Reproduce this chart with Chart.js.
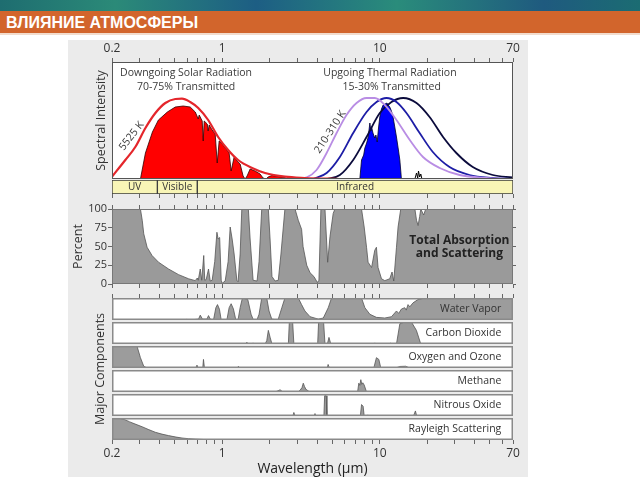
<!DOCTYPE html>
<html lang="ru">
<head>
<meta charset="utf-8">
<title>Влияние атмосферы</title>
<script src="https://cdn.jsdelivr.net/npm/chart.js@4.4.1/dist/chart.umd.min.js"></script>
<style>
  body { margin: 0; width: 640px; height: 480px; background: #fff; position: relative; overflow: hidden; font-family: "Open Sans", sans-serif; }
  .strip { position: absolute; left: 0; top: 0; width: 640px; height: 11px;
    background: linear-gradient(90deg, #1e6d70 0%, #2b8a78 18%, #1d5e84 40%, #2a8c7b 62%, #1f5a7f 85%, #1b6c72 100%); }
  .header { position: absolute; left: 0; top: 11px; width: 640px; height: 24px; background: #d2652c;
    border-bottom: 2px solid #f2dccd; color: #fff; font: bold 16px "Liberation Sans", Arial, sans-serif;
    line-height: 24px; padding-left: 6px; box-sizing: border-box; }
  .panel { position: absolute; left: 68px; top: 40px; width: 460px; height: 437px; background: #ebebeb; }
  canvas { position: absolute; }
  .ytitle { position: absolute; left: 20px; top: 361px; width: 160px; height: 16px; line-height: 16px;
    text-align: center; font-size: 12.5px; color: #333; transform: rotate(-90deg); }
</style>
</head>
<body>
<div class="strip"></div>
<div class="header">ВЛИЯНИЕ АТМОСФЕРЫ</div>
<div class="panel"></div>
<canvas id="spec" width="460" height="140" style="left:68px;top:40px"></canvas>
<canvas id="band" width="460" height="20" style="left:68px;top:180px"></canvas>
<canvas id="pct" width="460" height="92" style="left:68px;top:200px"></canvas>
<div id="rows"></div>
<div class="ytitle">Major Components</div>
<script>
// wavelength axis (µm)
const ticksAt = [0.2, 0.3, 0.4, 0.5, 0.6, 0.7, 0.8, 0.9, 1, 2, 3, 4, 5, 6, 7, 8, 9, 10, 20, 30, 40, 50, 60, 70];
const tickLabels = [0.2, 1, 10, 70];
const pctTicks = [0, 25, 50, 75, 100];

// spectral intensity panel
const solarBBWl = [0.2, 0.243, 0.281, 0.326, 0.377, 0.436, 0.504, 0.556, 0.627, 0.705, 0.815, 0.943, 1.091, 1.262, 1.548, 1.871, 2.5, 3.35, 5.58];
const solarBBVal = [2.3, 19, 32, 51, 66, 76, 80, 80.3, 77, 71, 59, 42, 29, 19, 11, 6, 2.3, 1, 0];
const solarWl = [0.303, 0.326, 0.361, 0.394, 0.449, 0.504, 0.566, 0.627, 0.675, 0.705, 0.715, 0.747, 0.758, 0.769, 0.804, 0.815, 0.827, 0.864, 0.903, 0.930, 0.957, 1.0, 1.06, 1.107, 1.14, 1.191, 1.244, 1.30, 1.358, 1.398, 1.439, 1.504, 1.618, 1.740, 1.817, 1.90, 1.955, 2.07, 2.26, 2.50, 2.58, 2.70, 3.12, 3.61];
const solarVal = [0, 26, 47, 59, 67, 72, 73, 72, 67, 60, 64, 58, 38, 58, 55, 48, 54, 49, 45, 16, 38, 35, 30, 26, 8, 22, 18, 15, 3, 0, 3, 10, 8, 5, 1, 0, 2, 3.5, 2.5, 1.5, 0, 1, 0.5, 0];
const t310Wl = [2.90, 3.44, 3.97, 4.60, 5.32, 6.15, 7.12, 8.24, 9.29, 10.76, 12.76, 15.5, 18.8, 24.0, 32.1, 47.4, 66.5];
const t310Val = [0, 1.7, 9, 26, 46, 64, 76, 81, 81, 74, 59, 39, 22, 11, 4, 1, 0];
const t260Wl = [3.77, 4.60, 5.58, 6.78, 8.24, 9.53, 11.03, 12.76, 14.76, 17.9, 21.7, 27.7, 37.1, 52.1, 69.5];
const t260Val = [0, 6, 22, 46, 67, 77, 81, 77, 66, 46, 27, 12, 4, 1, 0];
const t210Wl = [4.60, 5.58, 6.78, 8.24, 10.0, 11.86, 14.05, 17.1, 20.7, 25.2, 30.6, 38.9, 52.1, 69.5];
const t210Val = [0, 4, 19, 42, 66, 77, 81, 76, 62, 42, 26, 12, 4, 1.5];
const thermWl = [7.47, 7.66, 7.9, 8.04, 8.25, 8.44, 8.65, 8.78, 8.87, 9.05, 9.29, 9.45, 9.63, 9.8, 10.0, 10.25, 10.5, 10.8, 11.1, 11.3, 11.57, 11.85, 12.14, 12.45, 12.76, 13.1, 13.4, 13.72];
const thermVal = [0, 19, 24, 31, 36, 42, 56, 48, 52, 46, 41, 44, 37, 50, 62, 70, 74, 75, 76, 74, 72, 68, 62, 52, 42, 30, 19, 0];
const residWl = [13.72, 15.5, 16.7, 17.1, 17.4, 17.6, 17.9, 18.2, 18.5, 20, 69.5];
const residVal = [0, 0, 0, 6, 1, 8, 2, 5, 0, 0, 0];

const bandNames = ['UV', 'Visible', 'Infrared'];
const bandFrom = [0.2, 0.388, 0.695];
const bandTo = [0.388, 0.695, 70];

// total absorption and scattering (%)
const pctWl = [0.2, 0.303, 0.311, 0.318, 0.334, 0.359, 0.395, 0.457, 0.529, 0.612, 0.675, 0.695, 0.705, 0.726, 0.742, 0.764, 0.775, 0.792, 0.819, 0.840, 0.864, 0.897, 0.926, 0.943, 0.964, 0.986, 1.0, 1.045, 1.091, 1.124, 1.157, 1.191, 1.239, 1.262, 1.30, 1.332, 1.466, 1.504, 1.571, 1.665, 1.714, 1.782, 1.963, 2.013, 2.07, 2.165, 2.27, 2.36, 2.50, 2.90, 3.04, 3.19, 3.26, 3.44, 3.61, 3.82, 4.02, 4.11, 4.23, 4.49, 4.67, 4.83, 5.06, 5.19, 7.66, 7.96, 8.24, 8.43, 8.87, 9.29, 9.52, 9.75, 10.25, 10.76, 11.57, 11.96, 12.26, 12.76, 13.06, 13.58, 16.7, 17.1, 17.5, 17.9, 18.2, 18.98, 19.55, 70];
const pctVal = [100, 100, 85, 67, 49, 38, 29, 20, 12.5, 7, 4.5, 8, 5, 20, 5, 38, 5, 6, 20, 4, 5, 30, 69, 60, 62, 5, 1, 4, 30, 76, 60, 40, 5, 3, 40, 100, 100, 60, 5, 4, 30, 100, 100, 60, 10, 4, 5, 40, 100, 100, 85, 73, 50, 25, 15, 10, 2, 5, 100, 100, 29, 63, 94, 100, 100, 76, 49, 29, 22, 45, 49, 22, 7, 4.5, 7, 16, 4, 49, 76, 100, 100, 85, 78, 90, 100, 92, 100, 100];

// major components (fraction absorbed)
const h2oWl = [0.2, 0.575, 0.598, 0.618, 0.708, 0.726, 0.750, 0.800, 0.819, 0.840, 0.881, 0.912, 0.934, 0.961, 0.986, 1.071, 1.107, 1.14, 1.179, 1.221, 1.262, 1.30, 1.344, 1.454, 1.526, 1.578, 1.665, 1.714, 1.782, 1.918, 1.983, 2.064, 2.26, 2.39, 2.50, 3.04, 3.19, 3.35, 3.61, 4.07, 4.38, 4.71, 4.94, 7.66, 8.04, 8.65, 9.52, 10.76, 11.86, 12.76, 13.18, 13.72, 14.4, 14.72, 15.1, 15.5, 16.25, 17.47, 19.3, 70];
const h2oVal = [0, 0, 0.03, 0, 0.04, 0.22, 0.04, 0.04, 0.2, 0.04, 0, 0.56, 0.7, 0.49, 0, 0, 0.56, 0.74, 0.5, 0, 0.02, 0.56, 1, 0.93, 0.26, 0, 0.02, 0.26, 1, 1, 0.41, 0.04, 0, 0.56, 1, 1, 0.7, 0.41, 0.15, 0.04, 0.09, 0.56, 1, 1, 0.56, 0.26, 0.12, 0.09, 0.15, 0.41, 0.3, 0.5, 0.56, 0.45, 0.7, 0.6, 0.78, 0.93, 1, 1];
const co2Wl = [0.2, 1.398, 1.434, 1.471, 1.548, 1.571, 1.594, 1.871, 1.918, 1.963, 2.013, 2.064, 2.10, 2.63, 2.667, 2.80, 2.85, 4.035, 4.09, 4.40, 4.49, 4.65, 4.76, 4.876, 5.04, 9.16, 9.29, 9.43, 11.57, 11.74, 11.91, 12.76, 13.4, 14.4, 15.87, 17.07, 18.2, 70];
const co2Val = [0, 0, 0.08, 0, 0, 0.05, 0, 0, 0.15, 0.62, 0.31, 0.03, 0, 0, 1, 1, 0, 0, 1, 1, 0, 0, 0.3, 0.03, 0, 0, 0.05, 0, 0, 0.04, 0, 0, 0.92, 1, 1, 0.62, 0, 0];
const o3Wl = [0.2, 0.288, 0.303, 0.318, 0.334, 0.680, 0.692, 0.705, 0.753, 0.761, 0.772, 1.253, 1.268, 1.285, 4.64, 4.70, 4.79, 9.16, 9.52, 9.86, 10.15, 12.63, 13.4, 14.61, 15.5, 70];
const o3Val = [1, 1, 0.47, 0.08, 0, 0, 0.13, 0, 0, 0.39, 0, 0, 0.08, 0, 0, 0.16, 0, 0, 0.47, 0.39, 0, 0, 0.07, 0.08, 0, 0];
const ch4Wl = [0.2, 2.13, 2.22, 2.33, 2.43, 3.03, 3.12, 3.21, 3.27, 3.33, 3.40, 3.516, 3.61, 7.23, 7.36, 7.47, 7.58, 7.69, 7.80, 7.96, 8.24, 70];
const ch4Val = [0, 0, 0.03, 0.1, 0, 0, 0.08, 0.2, 0.4, 0.25, 0.12, 0.05, 0, 0, 0.4, 0.3, 0.56, 0.35, 0.42, 0.32, 0, 0];
const n2oWl = [0.2, 2.81, 2.85, 2.90, 3.82, 3.88, 3.94, 4.42, 4.467, 4.57, 4.62, 7.53, 7.66, 7.84, 7.96, 8.34, 8.40, 8.45, 16.29, 16.48, 16.83, 17.1, 17.4, 70];
const n2oVal = [0, 0, 0.16, 0, 0, 0.11, 0, 0, 0.92, 0.92, 0, 0, 0.52, 0.44, 0, 0, 0.05, 0, 0, 0.06, 0.23, 0.03, 0, 0];
const rayWl = [0.2, 0.232, 0.268, 0.311, 0.377, 0.457, 0.556, 0.675, 0.861, 1.15, 70];
const rayVal = [1, 0.96, 0.78, 0.6, 0.35, 0.2, 0.09, 0.04, 0.012, 0, 0];

const rowNames = ['Water Vapor', 'Carbon Dioxide', 'Oxygen and Ozone', 'Methane', 'Nitrous Oxide', 'Rayleigh Scattering'];
const rowWl = [h2oWl, co2Wl, o3Wl, ch4Wl, n2oWl, rayWl];
const rowVal = [h2oVal, co2Val, o3Val, ch4Val, n2oVal, rayVal];

Chart.defaults.font.family = '"Open Sans", "Noto Sans", sans-serif';
Chart.defaults.color = '#333';
Chart.defaults.animation = false;
Chart.defaults.responsive = false;
Chart.defaults.events = [];
Chart.defaults.plugins.legend.display = false;
Chart.defaults.plugins.tooltip.enabled = false;

const pts = (xs, ys) => xs.map((x, i) => ({ x, y: ys[i] }));

function curve(xs, ys, color, width) {
  return { data: pts(xs, ys), borderColor: color, borderWidth: width, pointRadius: 0, fill: false, cubicInterpolationMode: 'monotone' };
}

function area(xs, ys, bg, edge) {
  return { data: pts(xs, ys), backgroundColor: bg, borderColor: edge, borderWidth: 0.8, pointRadius: 0, fill: 'origin', tension: 0 };
}

function waveAxis(position, size, showLabels, title) {
  return {
    type: 'logarithmic', position, min: 0.2, max: 70,
    afterBuildTicks: s => { s.ticks = ticksAt.map(v => ({ value: v })); },
    afterFit: s => { s.height = size; },
    ticks: { autoSkip: false, maxRotation: 0, padding: 2, color: '#333', font: { size: 12 },
      callback: v => (showLabels && tickLabels.includes(v)) ? String(v) : '' },
    grid: { drawOnChartArea: false, tickLength: 4, color: '#666' },
    border: { display: false },
    title: title ? { display: true, text: title, color: '#222', font: { size: 14 }, padding: { top: 0, bottom: 1 } } : { display: false }
  };
}

function frameLayer(fill, stroke, width) {
  return {
    id: 'frame',
    beforeDraw(chart) {
      const a = chart.chartArea, ctx = chart.ctx;
      ctx.save();
      ctx.fillStyle = fill;
      ctx.fillRect(a.left, a.top, a.right - a.left, a.bottom - a.top);
      ctx.restore();
    },
    afterDatasetsDraw(chart) {
      const a = chart.chartArea, ctx = chart.ctx;
      ctx.save();
      ctx.strokeStyle = stroke;
      ctx.lineWidth = width;
      ctx.strokeRect(a.left + width / 2, a.top + width / 2, a.right - a.left - width, a.bottom - a.top - width);
      ctx.restore();
    }
  };
}

function textLayer(items) {
  return {
    id: 'text',
    afterDatasetsDraw(chart) {
      const ctx = chart.ctx, xs = chart.scales.x, ys = chart.scales.y;
      items.forEach(n => {
        ctx.save();
        ctx.translate(xs.getPixelForValue(n.x), ys.getPixelForValue(n.y));
        if (n.rotate) ctx.rotate(n.rotate * Math.PI / 180);
        ctx.font = n.font || '10.5px "Open Sans"';
        ctx.fillStyle = n.color || '#3a3a3a';
        ctx.textAlign = n.align || 'center';
        ctx.textBaseline = 'middle';
        ctx.fillText(n.text, 0, 0);
        ctx.restore();
      });
    }
  };
}

const barText = {
  id: 'barText',
  afterDatasetsDraw(chart) {
    const ctx = chart.ctx;
    chart.data.datasets.forEach((ds, i) => {
      const c = chart.getDatasetMeta(i).data[0].getCenterPoint();
      ctx.save();
      ctx.font = '10px "Open Sans"';
      ctx.fillStyle = '#333';
      ctx.textAlign = 'center';
      ctx.textBaseline = 'middle';
      ctx.fillText(ds.label, c.x, c.y);
      ctx.restore();
    });
  }
};

// spectral intensity
new Chart(document.getElementById('spec'), {
  type: 'line',
  data: {
    datasets: [
      curve(solarBBWl, solarBBVal, '#e4262b', 2.2),
      curve(t310Wl, t310Val, '#b98de4', 1.8),
      curve(t260Wl, t260Val, '#1d1da6', 1.8),
      curve(t210Wl, t210Val, '#0b0b3c', 1.8),
      { data: pts(residWl, residVal), borderColor: '#000', borderWidth: 1, pointRadius: 0, fill: false },
      area(thermWl, thermVal, '#0000ff', '#000028'),
      area(solarWl, solarVal, '#ff0000', '#300000')
    ]
  },
  options: {
    layout: { padding: { right: 15, bottom: 1 } },
    scales: {
      x: waveAxis('top', 22, true),
      y: {
        min: 0, max: 117,
        afterFit: s => { s.width = 44; },
        ticks: { display: false }, grid: { display: false }, border: { display: false },
        title: { display: true, text: 'Spectral Intensity', color: '#333', font: { size: 12.5 }, padding: { top: 26 } }
      }
    }
  },
  plugins: [frameLayer('#fff', '#555', 1), textLayer([
    { text: 'Downgoing Solar Radiation', x: 0.59, y: 106 },
    { text: '70-75% Transmitted', x: 0.59, y: 92 },
    { text: 'Upgoing Thermal Radiation', x: 11.6, y: 106 },
    { text: '15-30% Transmitted', x: 11.9, y: 92 },
    { text: '5525 K', x: 0.266, y: 43, rotate: -52 },
    { text: '210-310 K', x: 4.85, y: 47, rotate: -57 }
  ])]
});

// UV / Visible / Infrared band
new Chart(document.getElementById('band'), {
  type: 'bar',
  data: {
    labels: [''],
    datasets: bandNames.map((name, i) => ({
      label: name, data: [[bandFrom[i], bandTo[i]]],
      backgroundColor: '#f8f5b6', borderColor: '#3a3a3a', borderWidth: 1, borderSkipped: false,
      grouped: false, barPercentage: 1, categoryPercentage: 1
    }))
  },
  options: {
    indexAxis: 'y',
    layout: { padding: { left: 44, right: 15 } },
    scales: { x: waveAxis('bottom', 6, false), y: { display: false } }
  },
  plugins: [barText]
});

// total absorption
new Chart(document.getElementById('pct'), {
  type: 'line',
  data: { datasets: [area(pctWl, pctVal, '#9a9a9a', '#555')] },
  options: {
    scales: {
      x: waveAxis('bottom', 8, false),
      x2: waveAxis('top', 9, false),
      y: {
        position: 'left', min: 0, max: 100,
        afterBuildTicks: s => { s.ticks = pctTicks.map(v => ({ value: v })); },
        afterFit: s => { s.width = 44; },
        ticks: { font: { size: 11 }, color: '#333', padding: 1 },
        grid: { drawOnChartArea: false, tickLength: 4, color: '#666' },
        border: { display: false },
        title: { display: true, text: 'Percent', color: '#333', font: { size: 12.5 }, padding: { top: 3 } }
      },
      y2: {
        position: 'right', min: 0, max: 100,
        afterBuildTicks: s => { s.ticks = pctTicks.map(v => ({ value: v })); },
        afterFit: s => { s.width = 15; },
        ticks: { display: false },
        grid: { drawOnChartArea: false, tickLength: 3, color: '#666' },
        border: { display: false }
      }
    }
  },
  plugins: [frameLayer('#fff', '#777', 1), textLayer([
    { text: 'Total Absorption', x: 32, y: 58, font: 'bold 12px "Open Sans"', color: '#222' },
    { text: 'and Scattering', x: 32, y: 40, font: 'bold 12px "Open Sans"', color: '#222' }
  ])]
});

// major components, one strip each
const rowsHost = document.getElementById('rows');
rowNames.forEach((name, i) => {
  const first = i === 0, last = i === rowNames.length - 1;
  const areaTop = 298 + 24 * i;
  const top = first ? areaTop - 9 : areaTop;
  const height = first ? 31 : (last ? 60 : 22);
  const cv = document.createElement('canvas');
  cv.width = 460; cv.height = height;
  cv.style.left = '68px'; cv.style.top = top + 'px';
  rowsHost.appendChild(cv);

  const scales = {
    x: waveAxis('bottom', last ? 38 : 0, last, last ? 'Wavelength (µm)' : null),
    y: { display: false, min: 0, max: 1 }
  };
  if (!last) scales.x.display = false;
  if (first) scales.x2 = waveAxis('top', 9, false);

  const ds = area(rowWl[i], rowVal[i], '#9c9c9c', '#555');
  if (last) { ds.cubicInterpolationMode = 'monotone'; }

  new Chart(cv, {
    type: 'line',
    data: { datasets: [ds] },
    options: { layout: { padding: { left: 44, right: 15 } }, scales },
    plugins: [frameLayer('#fff', '#8a8a8a', 1.5), textLayer([
      { text: name, x: 59, y: 0.5, align: 'right', font: '10.5px "Open Sans"', color: '#333' }
    ])]
  });
});
</script>
</body>
</html>
